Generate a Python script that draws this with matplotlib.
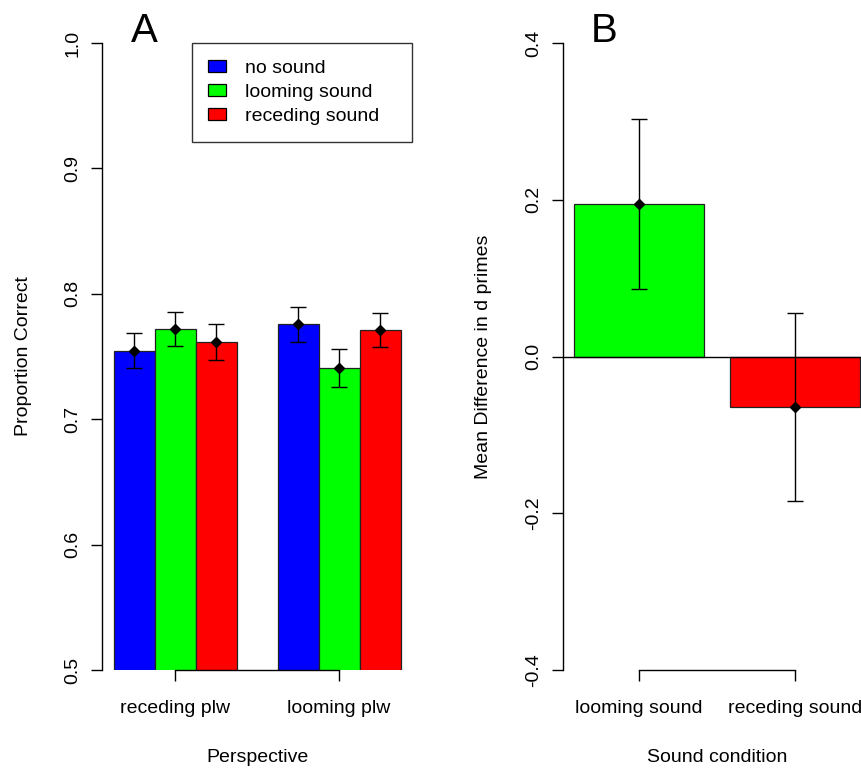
import numpy as np
import matplotlib
matplotlib.use("Agg")
import matplotlib.pyplot as plt

plt.rcParams['font.family'] = ['Liberation Sans', 'DejaVu Sans']

# ---------------- data ----------------
perspectives = ["receding plw", "looming plw"]
sound_labels = ["no sound", "looming sound", "receding sound"]
colors = ["#0000FF", "#00FF00", "#FF0000"]

no_sound = [0.7546, 0.7757]
looming_sound = [0.7722, 0.7408]
receding_sound = [0.7616, 0.7711]
no_sound_se = [0.0140, 0.0141]
looming_sound_se = [0.0135, 0.0148]
receding_sound_se = [0.0144, 0.0139]

a_yticks = [0.5, 0.6, 0.7, 0.8, 0.9, 1.0]

b_conditions = ["looming sound", "receding sound"]
b_means = [0.194, -0.064]
b_se = [0.1085, 0.1198]
b_colors = ["#00FF00", "#FF0000"]
b_yticks = [-0.4, -0.2, 0.0, 0.2, 0.4]

# ---------------- figure ----------------
W, H = 862, 769
fig = plt.figure(figsize=(W / 100, H / 100), dpi=100)

FS = 14
def px_axes(l, r, t, b):
    return [l / W, (H - b) / H, (r - l) / W, (b - t) / H]

axA = fig.add_axes(px_axes(102.5, 412, 43, 670))
axB = fig.add_axes(px_axes(562.6, 871, 43, 670))

def style_axis(ax, lo, hi):
    for s in ("top", "right"):
        ax.spines[s].set_visible(False)
    ax.spines["left"].set_linewidth(1.0)
    ax.spines["bottom"].set_linewidth(1.0)
    ax.spines["bottom"].set_bounds(lo, hi)
    ax.tick_params(axis="both", direction="out", length=8, width=1.0,
                   labelsize=FS, colors="black")
    ax.tick_params(axis="y", labelrotation=90, pad=7)
    ax.tick_params(axis="x", pad=13.5)
    for lab in ax.get_yticklabels():
        lab.set_va("center")

# ---- Panel A ----
series = [no_sound, looming_sound, receding_sound]
series_se = [no_sound_se, looming_sound_se, receding_sound_se]
nser = len(series)
group_start = np.arange(len(perspectives)) * (nser + 1) + 1.0  # space 1 between groups
for i, (vals, se) in enumerate(zip(series, series_se)):
    x = group_start + i + 0.5
    axA.bar(x, vals, width=1.0, color=colors[i], edgecolor="#222222",
            linewidth=0.9, label=sound_labels[i], zorder=2)
    axA.errorbar(x, vals, yerr=se, fmt="D", color="black", ms=5,
                 capsize=5.8, elinewidth=1.0, capthick=1.0, zorder=3)
centers = group_start + nser / 2.0
full = group_start[-1] + nser - group_start[0]
axA.set_xlim(group_start[0] - 0.04 * full, group_start[-1] + nser + 0.04 * full)
axA.set_ylim(0.5, 1.0)
axA.set_yticks(a_yticks)
axA.set_yticklabels([f"{v:.1f}" for v in a_yticks])
axA.set_xticks(centers)
axA.set_xticklabels(perspectives)
style_axis(axA, centers[0], centers[-1])
axA.set_ylabel("Proportion Correct", fontsize=FS)
axA.yaxis.set_label_coords(-0.228, 0.5)
axA.set_xlabel("Perspective", fontsize=FS)
axA.xaxis.set_label_coords(0.5, -0.126)

x0 = (191.7 - 102.5) / 309.5
leg = axA.legend(loc="upper left", bbox_to_anchor=(x0, 0.0, 1.0 - x0, 1.0),
                 mode="expand", borderaxespad=0.0, fontsize=FS,
                 frameon=True, fancybox=False, edgecolor="black",
                 handlelength=0.9, handleheight=0.6, handletextpad=1.0,
                 labelspacing=0.37, borderpad=0.85)
leg.get_frame().set_linewidth(1.0)
for h in leg.legend_handles:
    h.set_edgecolor("black")
    h.set_linewidth(0.9)

# ---- Panel B ----
xb = np.arange(len(b_conditions)) * 1.2 + 0.7
axB.bar(xb, b_means, width=1.0, color=b_colors, edgecolor="#222222",
        linewidth=0.9, zorder=2)
axB.errorbar(xb, b_means, yerr=b_se, fmt="D", color="black", ms=5,
             capsize=5.8, elinewidth=1.0, capthick=1.0, zorder=3)
axB.axhline(0, color="black", linewidth=1.0, zorder=2.5)
lo, hi = xb[0] - 0.5, xb[-1] + 0.5
axB.set_xlim(lo - 0.04 * (hi - lo), hi + 0.04 * (hi - lo))
axB.set_ylim(-0.4, 0.4)
axB.set_yticks(b_yticks)
axB.set_yticklabels([f"{v:.1f}" for v in b_yticks])
axB.set_xticks(xb)
axB.set_xticklabels(b_conditions)
style_axis(axB, xb[0], xb[-1])
axB.set_ylabel("Mean Difference in d primes", fontsize=FS)
axB.yaxis.set_label_coords(-0.229, 0.5)
axB.set_xlabel("Sound condition", fontsize=FS)
axB.xaxis.set_label_coords(0.5, -0.126)

# panel letters
fig.text(144.5 / W, 1 - 42 / H, "A", fontsize=29, ha="center", va="baseline")
fig.text(604.5 / W, 1 - 42 / H, "B", fontsize=29, ha="center", va="baseline")

fig.savefig("out.png", dpi=100)
